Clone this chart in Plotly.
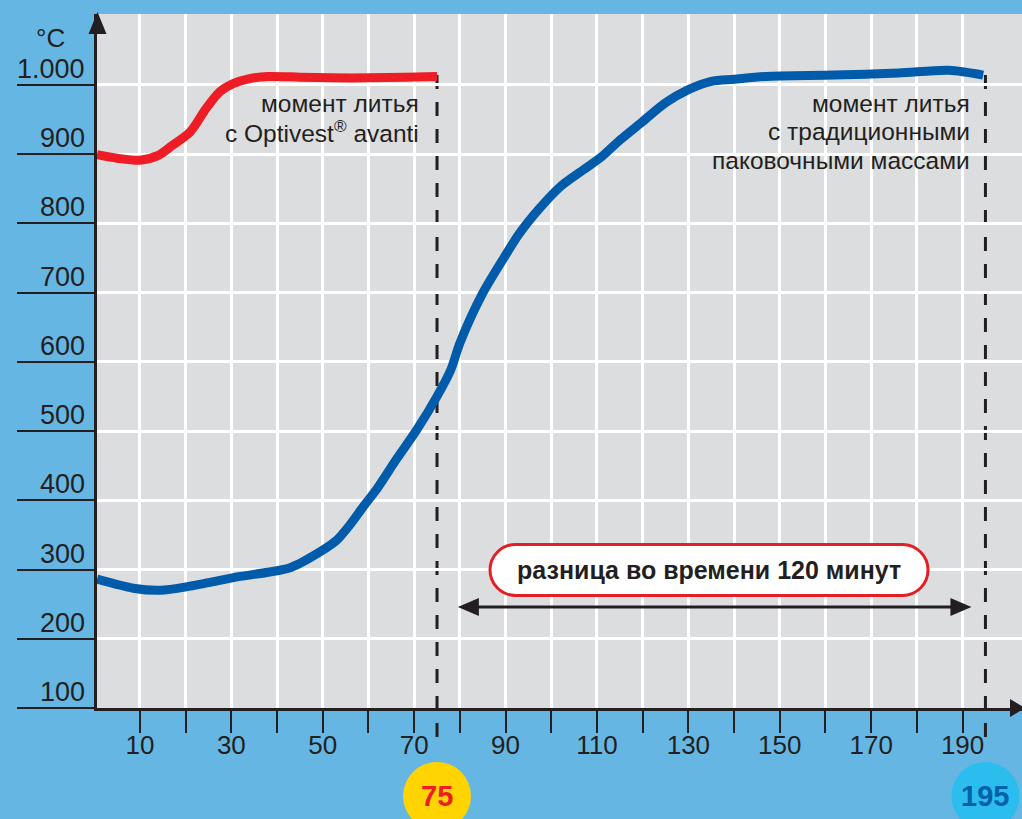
import plotly.graph_objects as go

# ---- data ----
time_optivest = [0.6, 5, 10, 14, 17, 21, 24.5, 27.5, 30.5, 34, 38, 45, 52, 60, 68, 75]
temp_optivest = [899, 894, 891, 898, 912, 932, 966, 990, 1002, 1009, 1012, 1011, 1010, 1010, 1011, 1012]

time_traditional = [0.6, 8.5, 14.5, 21, 25, 32, 38, 43, 50, 53, 56, 59, 62, 66, 70.5, 75, 78, 80,
                    85, 90, 93, 97.5, 102, 107, 111, 115, 120, 125, 130, 135, 140, 147, 162, 176, 187, 194.5]
temp_traditional = [286, 273, 270, 276, 281, 290, 296, 303, 328, 342, 365, 392, 418, 458, 501, 550, 588, 627,
                    699, 754, 785, 822, 853, 877, 896, 920, 947, 974, 993, 1005, 1008, 1012, 1014, 1017, 1021, 1014]

x_tick_vals = [10, 20, 30, 40, 50, 60, 70, 80, 90, 100, 110, 120, 130, 140, 150, 160, 170, 180, 190]
x_tick_text = ["10", "", "30", "", "50", "", "70", "", "90", "", "110", "", "130", "", "150", "", "170", "", "190"]
y_tick_vals = [100, 200, 300, 400, 500, 600, 700, 800, 900, 1000]
y_tick_text = ["100", "200", "300", "400", "500", "600", "700", "800", "900", "1.000"]

cast_optivest = 75
cast_traditional = 195
arrow_from, arrow_to = 80, 191.5
diff_text = "разница во времени 120 минут"
label_optivest = ["момент литья", "с Optivest<sup>®</sup> avanti"]
label_traditional = ["момент литья", "с традиционными", "паковочными массами"]

# ---- styling ----
W, H = 1022, 819
ML, MR, MT, MB = 97, 0, 14, 111
PW, PH = W - ML - MR, H - MT - MB
X_RANGE = [0.6, 203.0]
Y_RANGE = [100, 1102.2]
INK = "#231F20"
RED = "#EE1C25"
BLUE = "#005BAA"
FONT = "Liberation Sans, Arial, sans-serif"


def px(xp):
    return (xp - ML) / PW


def py(yp):
    return (H - MB - yp) / PH


def path(points):
    s = "M " + " L ".join(f"{px(a):.5f},{py(b):.5f}" for a, b in points)
    return s + " Z"


fig = go.Figure()
fig.add_trace(go.Scatter(x=time_optivest, y=temp_optivest, mode="lines",
                         line=dict(color=RED, width=9, shape="spline", smoothing=0.8),
                         hoverinfo="skip"))
fig.add_trace(go.Scatter(x=time_traditional, y=temp_traditional, mode="lines",
                         line=dict(color=BLUE, width=9, shape="spline", smoothing=0.8),
                         hoverinfo="skip"))

shapes = []
# dashed casting lines
for xc, top in ((cast_optivest, 70), (cast_traditional, 62)):
    shapes.append(dict(type="line", xref="x", yref="paper", x0=xc, x1=xc, y0=py(737), y1=py(top),
                       line=dict(color=INK, width=3, dash="14px,13px"), layer="between"))
# axis arrowheads
shapes.append(dict(type="path", xref="paper", yref="paper",
                   path=path([(97.5, 12), (106.5, 34), (88.5, 34)]), fillcolor=INK, line=dict(width=0)))
shapes.append(dict(type="path", xref="paper", yref="paper",
                   path=path([(1025, 708), (1010, 699), (1010, 717)]), fillcolor=INK, line=dict(width=0)))
# circles with the casting times
for xc, col in ((cast_optivest, "#FFD400"), (cast_traditional, "#2ABDEE")):
    shapes.append(dict(type="circle", xref="x", yref="paper", xsizemode="pixel", ysizemode="pixel",
                       xanchor=xc, yanchor=py(796), x0=-34, x1=34, y0=-34, y1=34,
                       fillcolor=col, line=dict(width=0)))
# rounded label box
w, h = 219, 25.5
k = 0.5523 * h
box = (f"M {-w + h},{h} L {w - h},{h} C {w - h + k},{h} {w},{k} {w},0 "
       f"C {w},{-k} {w - h + k},{-h} {w - h},{-h} L {-w + h},{-h} "
       f"C {-w + h - k},{-h} {-w},{-k} {-w},0 C {-w},{k} {-w + h - k},{h} {-w + h},{h} Z")
shapes.append(dict(type="path", xref="paper", yref="paper", xsizemode="pixel", ysizemode="pixel",
                   xanchor=px(709), yanchor=py(570), path=box, fillcolor="white",
                   line=dict(color="#E31E24", width=3)))
# double arrow (in data x)
shapes.append(dict(type="line", xref="x", yref="paper", x0=arrow_from + 3, x1=arrow_to - 3,
                   y0=py(607), y1=py(607), line=dict(color=INK, width=3)))
shapes.append(dict(type="path", xref="x", yref="paper", xsizemode="pixel", ysizemode="pixel",
                   xanchor=arrow_from, yanchor=py(607), path="M -2,0 L 19,9 L 19,-9 Z",
                   fillcolor=INK, line=dict(width=0)))
shapes.append(dict(type="path", xref="x", yref="paper", xsizemode="pixel", ysizemode="pixel",
                   xanchor=arrow_to, yanchor=py(607), path="M 2,0 L -19,9 L -19,-9 Z",
                   fillcolor=INK, line=dict(width=0)))

annotations = []
for v, t in zip(y_tick_vals, y_tick_text):
    annotations.append(dict(xref="paper", yref="y", x=px(87), y=v, text=t, showarrow=False,
                            xanchor="right", yanchor="bottom", yshift=-1,
                            font=dict(family=FONT, size=27, color=INK)))
annotations.append(dict(xref="paper", yref="paper", x=px(50), y=py(38), text="°C", showarrow=False,
                        xanchor="center", yanchor="middle", font=dict(family=FONT, size=26, color=INK)))
annotations.append(dict(xref="x", yref="paper", x=cast_optivest, y=py(796), text="<b>75</b>",
                        showarrow=False, xanchor="center", yanchor="middle",
                        font=dict(family=FONT, size=29, color=RED)))
annotations.append(dict(xref="x", yref="paper", x=cast_traditional, y=py(796), text="<b>195</b>",
                        showarrow=False, xanchor="center", yanchor="middle",
                        font=dict(family=FONT, size=29, color="#0060A8")))
annotations.append(dict(xref="paper", yref="paper", x=px(709), y=py(570), text=f"<b>{diff_text}</b>",
                        showarrow=False, xanchor="center", yanchor="middle",
                        font=dict(family=FONT, size=25, color=INK)))
for i, line in enumerate(label_optivest):
    annotations.append(dict(xref="paper", yref="paper", x=px(421), y=py(103 + 28.5 * i), text=line,
                            showarrow=False, xanchor="right", yanchor="middle",
                            font=dict(family=FONT, size=24.5, color=INK)))
for i, line in enumerate(label_traditional):
    annotations.append(dict(xref="paper", yref="paper", x=px(972), y=py(103 + 28.5 * i), text=line,
                            showarrow=False, xanchor="right", yanchor="middle",
                            font=dict(family=FONT, size=24.5, color=INK)))

fig.update_layout(
    width=W, height=H, autosize=False,
    margin=dict(l=ML, r=MR, t=MT, b=MB, pad=0),
    paper_bgcolor="#66B6E4", plot_bgcolor="#DCDDDF",
    showlegend=False, shapes=shapes, annotations=annotations,
    font=dict(family=FONT, color=INK),
    xaxis=dict(range=X_RANGE, tickvals=x_tick_vals, ticktext=x_tick_text, showgrid=True,
               gridcolor="white", gridwidth=3, ticks="outside", ticklen=22, tickwidth=1.5,
               tickcolor=INK, showline=True, linewidth=3, linecolor=INK, zeroline=False,
               ticklabelstandoff=-10,
               tickfont=dict(family=FONT, size=26, color=INK), fixedrange=True),
    yaxis=dict(range=Y_RANGE, tickvals=y_tick_vals, showticklabels=False, showgrid=True,
               gridcolor="white", gridwidth=3, ticks="outside", ticklen=77, tickwidth=1.5,
               tickcolor=INK, showline=True, linewidth=3, linecolor=INK, zeroline=False,
               fixedrange=True),
)

fig.write_html("out.html", config={"displayModeBar": False},
               post_script="document.body.style.margin='0';")
